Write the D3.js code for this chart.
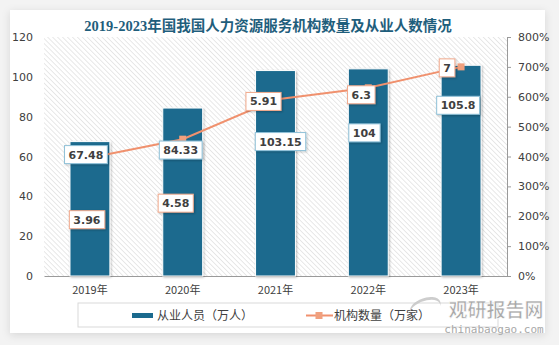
<!DOCTYPE html>
<html>
<head>
<meta charset="utf-8">
<script src="https://cdn.jsdelivr.net/npm/d3@7"></script>
<style>
  body { margin: 0; background: #f3f3f3; }
  svg { display: block; }
</style>
</head>
<body>
<svg width="559" height="345"></svg>
<script>
// data
const years = ['2019年', '2020年', '2021年', '2022年', '2023年'];
const staff = [67.48, 84.33, 103.15, 104, 105.8];      // 从业人员（万人）
const agencies = [3.96, 4.58, 5.91, 6.3, 7];           // 机构数量（万家）
const leftTicks = [0, 20, 40, 60, 80, 100, 120];
const rightTicks = [0, 1, 2, 3, 4, 5, 6, 7, 8];

// hand placed label nudges (the original moved its labels by hand)
const barLabelNudge = [[-4, 13], [-2, 42], [5, 71], [-4, 64], [-3, 40]];
const lineLabelNudge = [[-3, 62], [-7, 64], [-12, 2], [-7, 7], [-14, 1]];

const svg = d3.select('svg');
const defs = svg.append('defs');

const blue = '#1b6a8e';
const orange = '#f0916e';

// card shadow
const sh = defs.append('filter').attr('id', 'shadow').attr('x', '-10%').attr('y', '-10%').attr('width', '120%').attr('height', '120%');
sh.append('feDropShadow').attr('dx', 0).attr('dy', 2).attr('stdDeviation', 4).attr('flood-color', '#000').attr('flood-opacity', 0.12);
const sh2 = defs.append('filter').attr('id', 'small').attr('x', '-20%').attr('y', '-20%').attr('width', '150%').attr('height', '150%');
sh2.append('feDropShadow').attr('dx', 1).attr('dy', 1).attr('stdDeviation', 1.2).attr('flood-color', '#000').attr('flood-opacity', 0.25);

// hatched plot background, lines running down to the right
const pat = defs.append('pattern').attr('id', 'hatch')
  .attr('patternUnits', 'userSpaceOnUse').attr('width', 3.5).attr('height', 3.5)
  .attr('patternTransform', 'rotate(-45)');
pat.append('rect').attr('width', 3.5).attr('height', 3.5).attr('fill', '#fff');
pat.append('line').attr('x1', 0).attr('y1', 0).attr('x2', 0).attr('y2', 3.5)
  .attr('stroke', '#d6d6d6').attr('stroke-width', 1.1);

svg.append('rect').attr('x', 10).attr('y', 10).attr('width', 535).attr('height', 323)
  .attr('fill', '#fff').attr('filter', 'url(#shadow)');

const plot = { left: 44, right: 507, top: 37, bottom: 276 };

const x = d3.scaleBand().domain(years).range([plot.left, plot.right])
  .paddingInner(0.57).paddingOuter(0.28);
const yL = d3.scaleLinear().domain([0, 120]).range([plot.bottom, plot.top]);
const yR = d3.scaleLinear().domain([0, 8]).range([plot.bottom, plot.top]);

svg.append('rect').attr('x', plot.left).attr('y', plot.top)
  .attr('width', plot.right - plot.left).attr('height', plot.bottom - plot.top)
  .attr('fill', 'url(#hatch)');

// title
svg.append('text').attr('x', 268).attr('y', 31).attr('text-anchor', 'middle')
  .attr('font-family', '"Liberation Serif", "Noto Sans CJK SC", serif')
  .attr('font-weight', 'bold').attr('font-size', 14.5).attr('fill', '#1f5e7c')
  .text('2019-2023年国我国人力资源服务机构数量及从业人数情况');

const font = '"Noto Sans CJK SC", "DejaVu Sans", sans-serif';

// left axis
const axL = svg.append('g').attr('transform', `translate(${plot.left},0)`)
  .call(d3.axisLeft(yL).tickValues(leftTicks).tickSize(0).tickPadding(11));
axL.select('.domain').remove();
axL.selectAll('text').attr('font-family', '"DejaVu Sans", sans-serif').attr('font-size', 11).attr('fill', '#404040');

// right axis
const axR = svg.append('g').attr('transform', `translate(${plot.right},0)`)
  .call(d3.axisRight(yR).tickValues(rightTicks).tickSize(4).tickPadding(7)
    .tickFormat(d => (d * 100) + '%'));
axR.select('.domain').attr('stroke', '#9a9a9a');
axR.selectAll('line').attr('stroke', '#9a9a9a');
axR.selectAll('text').attr('font-family', '"DejaVu Sans", sans-serif').attr('font-size', 11).attr('fill', '#404040');

// bottom axis
const axB = svg.append('g').attr('transform', `translate(0,${plot.bottom})`)
  .call(d3.axisBottom(x).tickSize(0).tickPadding(10));
axB.select('.domain').attr('stroke', '#9a9a9a');
axB.selectAll('text').attr('font-family', font).attr('font-size', 11).attr('fill', '#404040');

// bars
svg.append('g').selectAll('rect').data(staff).join('rect')
  .attr('x', (d, i) => x(years[i]))
  .attr('y', d => yL(d))
  .attr('width', x.bandwidth())
  .attr('height', d => yL(0) - yL(d))
  .attr('fill', blue).attr('stroke', '#fff').attr('stroke-width', 1)
  .attr('filter', 'url(#small)');

// line
const cx = i => x(years[i]) + x.bandwidth() / 2;
const line = d3.line().x((d, i) => cx(i)).y(d => yR(d));
svg.append('path').datum(agencies).attr('d', line)
  .attr('fill', 'none').attr('stroke', orange).attr('stroke-width', 2);
svg.append('g').selectAll('rect').data(agencies).join('rect')
  .attr('x', (d, i) => cx(i) - 3.5).attr('y', d => yR(d) - 3.5)
  .attr('width', 7).attr('height', 7).attr('fill', '#f0a07e');

// value labels
function label(g, px, py, txt, border) {
  const t = g.append('text').attr('x', px).attr('y', py + 4)
    .attr('text-anchor', 'middle').attr('font-family', '"DejaVu Sans", sans-serif')
    .attr('font-weight', 'bold').attr('font-size', 11).attr('fill', '#404040').text(txt);
  const bb = t.node().getBBox();
  g.insert('rect', 'text').attr('x', bb.x - 4).attr('y', py - 9)
    .attr('width', bb.width + 8).attr('height', 18)
    .attr('fill', '#fff').attr('stroke', border).attr('stroke-width', 1)
    .attr('filter', 'url(#small)');
}
staff.forEach((v, i) => {
  const g = svg.append('g');
  label(g, cx(i) + barLabelNudge[i][0], yL(v) + barLabelNudge[i][1], String(v), '#8fc1d8');
});
agencies.forEach((v, i) => {
  const g = svg.append('g');
  label(g, cx(i) + lineLabelNudge[i][0], yR(v) + lineLabelNudge[i][1], String(v), '#f2a98c');
});

// legend
const lg = svg.append('g');
lg.append('rect').attr('x', 78).attr('y', 303).attr('width', 420).attr('height', 24)
  .attr('fill', '#fff').attr('stroke', '#d9d9d9');
lg.append('rect').attr('x', 132).attr('y', 313).attr('width', 21).attr('height', 5).attr('fill', blue);
lg.append('text').attr('x', 157).attr('y', 320).attr('font-family', font).attr('font-size', 12)
  .attr('fill', '#404040').text('从业人员（万人）');
lg.append('line').attr('x1', 306).attr('x2', 333).attr('y1', 315.5).attr('y2', 315.5)
  .attr('stroke', orange).attr('stroke-width', 2);
lg.append('rect').attr('x', 315.5).attr('y', 312).attr('width', 7).attr('height', 7).attr('fill', '#f0a07e');
lg.append('text').attr('x', 334).attr('y', 320).attr('font-family', font).attr('font-size', 12)
  .attr('fill', '#404040').text('机构数量（万家）');

// watermark
const wm = svg.append('g');
wm.append('path').attr('d', 'M410,312 a16,9 -20 1,1 30,-6 a12,6 -20 1,0 -30,6 z')
  .attr('fill', '#c8c8c8').attr('opacity', 0.9);
wm.append('text').attr('x', 496).attr('y', 317).attr('text-anchor', 'middle')
  .attr('font-family', font).attr('font-weight', 'bold').attr('font-size', 19)
  .attr('fill', '#a8a8a8').attr('stroke', '#fff').attr('stroke-width', 0.6).text('观研报告网');
wm.append('text').attr('x', 494).attr('y', 333).attr('text-anchor', 'middle')
  .attr('font-family', '"DejaVu Sans Mono", monospace').attr('font-size', 11)
  .attr('fill', '#a8a8a8').text('chinabaogao.com');
</script>
</body>
</html>
